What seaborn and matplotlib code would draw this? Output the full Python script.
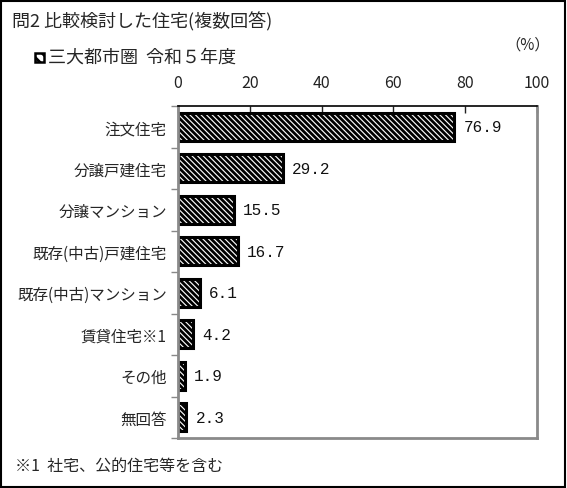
import matplotlib
matplotlib.use("Agg")
import matplotlib.pyplot as plt
import seaborn as sns
import pandas as pd
from matplotlib.patches import Rectangle

categories = ["注文住宅", "分譲戸建住宅", "分譲マンション", "既存(中古)戸建住宅",
              "既存(中古)マンション", "賃貸住宅※1", "その他", "無回答"]
values = [76.9, 29.2, 15.5, 16.7, 6.1, 4.2, 1.9, 2.3]
value_labels = ["76.9", "29.2", "15.5", "16.7", "6.1", "4.2", "1.9", "2.3"]
xticks = [0, 20, 40, 60, 80, 100]
series_name = "三大都市圏  令和５年度"

sns.set_theme(style="white")
plt.rcParams['font.family'] = ['Noto Sans CJK JP', 'DejaVu Sans']
plt.rcParams['hatch.linewidth'] = 2.0

df = pd.DataFrame({"cat": categories, "val": values})

fig = plt.figure(figsize=(5.67, 4.89), dpi=100)
ax = fig.add_axes([178/567, 1-439/489, (537-178)/567, (439-107)/489])

sns.barplot(data=df, y="cat", x="val", orient="h", ax=ax, color="white",
            edgecolor="black", linewidth=2.2, width=0.68, saturation=1)
for p in ax.patches:
    p.set_hatch("\\\\\\\\\\\\")
    p.set_edgecolor("black")

for p, lab in zip(ax.patches, value_labels):
    ax.text(p.get_width() + 2.6, p.get_y() + p.get_height()/2, lab,
            va="center", ha="left", fontsize=11.5, color="#111111",
            family=["Liberation Mono", "DejaVu Sans Mono"])

ax.set_xlim(0, 100)
ax.set_ylim(len(categories)-0.5, -0.5)
ax.set_xticks(xticks)
ax.set_xticklabels([str(t) for t in xticks], fontsize=11.5)
ax.xaxis.tick_top()
ax.tick_params(axis="x", direction="in", length=5, width=1, pad=11, top=True, bottom=False, colors="#222222")
ax.set_yticks(range(len(categories)))
ax.set_yticklabels(categories, fontsize=11.2)
ax.set_yticks([i + 0.5 for i in range(-1, len(categories))], minor=True)
ax.tick_params(axis="y", which="major", length=0, pad=8)
ax.tick_params(axis="y", which="minor", direction="out", length=5, width=1, color="#888888", left=True)
ax.set_xlabel("")
ax.set_ylabel("")
for s in ["left", "right", "bottom"]:
    ax.spines[s].set_visible(True)
    ax.spines[s].set_color("#8a8a8a")
    ax.spines[s].set_linewidth(2)
ax.spines["top"].set_color("black")
ax.spines["top"].set_linewidth(1.2)
ax.grid(False)

fig.text(12/567, 1-22/489, "問2 比較検討した住宅(複数回答)", fontsize=13, va="center", ha="left")
fig.patches.append(Rectangle((35/567, 1-63/489), 9/567, 9/489, transform=fig.transFigure,
                             facecolor="white", edgecolor="black", linewidth=1.8, hatch="\\\\\\"))
fig.text(48/567, 1-58/489, series_name, fontsize=13, va="center", ha="left")
fig.text(550/567, 1-45/489, "（%）", fontsize=11, va="center", ha="right")
fig.text(15/567, 1-466/489, "※1  社宅、公的住宅等を含む", fontsize=11.5, va="center", ha="left")

fig.patches.append(Rectangle((0.002, 0.002), 0.994, 0.994, transform=fig.transFigure,
                             facecolor="none", edgecolor="black", linewidth=1.5))

fig.savefig("out.png", dpi=100)
